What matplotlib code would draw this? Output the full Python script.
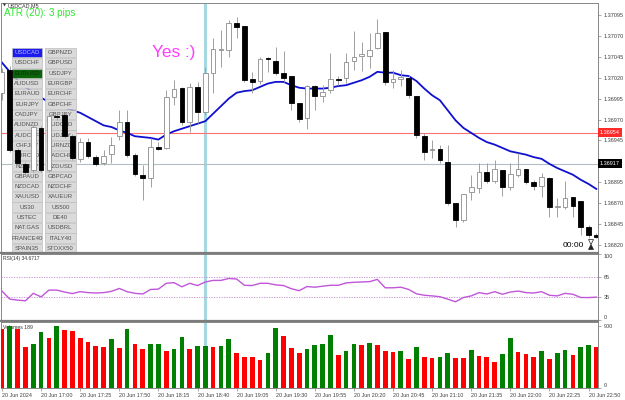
import matplotlib
matplotlib.use('Agg')
import matplotlib.pyplot as plt
from matplotlib.patches import Rectangle, Polygon
from matplotlib.lines import Line2D
from matplotlib.transforms import blended_transform_factory
import numpy as np

plt.rcParams['font.family'] = ['Liberation Sans', 'DejaVu Sans']

# ---------------- data ----------------
opens = [1.37002, 1.37029, 1.36934, 1.36917, 1.36910, 1.36960, 1.36910, 1.36974, 1.36975, 1.36950,
         1.36923, 1.36943, 1.36925, 1.36918, 1.36929, 1.36950, 1.36967, 1.36928, 1.36904, 1.36900,
         1.36937, 1.36936, 1.36997, 1.37008, 1.36967, 1.37009, 1.36979, 1.37026, 1.37053, 1.37053,
         1.37085, 1.37082, 1.37018, 1.37016, 1.37044, 1.37040, 1.37026, 1.37022, 1.36990, 1.36972,
         1.37010, 1.36998, 1.37005, 1.37018, 1.37020, 1.37040, 1.37046, 1.37046, 1.37056, 1.37075,
         1.37015, 1.37018, 1.37020, 1.36998, 1.36950, 1.36934, 1.36935, 1.36919, 1.36870, 1.36850,
         1.36883, 1.36888, 1.36907, 1.36897, 1.36910, 1.36889, 1.36904, 1.36911, 1.36895, 1.36891,
         1.36900, 1.36865, 1.36865, 1.36877, 1.36873, 1.36842, 1.36832]
highs = [1.37032, 1.37034, 1.36936, 1.36919, 1.36963, 1.36962, 1.36977, 1.36979, 1.36979, 1.36953,
         1.36948, 1.36948, 1.36928, 1.36934, 1.36949, 1.36981, 1.36981, 1.36930, 1.36916, 1.36948,
         1.36943, 1.37005, 1.37017, 1.37009, 1.37014, 1.37015, 1.37033, 1.37067, 1.37077, 1.37089,
         1.37093, 1.37082, 1.37027, 1.37045, 1.37045, 1.37057, 1.37052, 1.37022, 1.36990, 1.37011,
         1.37011, 1.37011, 1.37050, 1.37022, 1.37050, 1.37076, 1.37063, 1.37073, 1.37090, 1.37075,
         1.37029, 1.37029, 1.37023, 1.36998, 1.36954, 1.36946, 1.36940, 1.36940, 1.36870, 1.36881,
         1.36904, 1.36918, 1.36918, 1.36922, 1.36910, 1.36918, 1.36930, 1.36911, 1.36898, 1.36906,
         1.36901, 1.36876, 1.36897, 1.36877, 1.36873, 1.36844, 1.36834]
lows = [1.36993, 1.36931, 1.36916, 1.36905, 1.36907, 1.36907, 1.36907, 1.36969, 1.36948, 1.36922,
        1.36919, 1.36924, 1.36914, 1.36916, 1.36918, 1.36946, 1.36925, 1.36902, 1.36874, 1.36889,
        1.36934, 1.36935, 1.36987, 1.36963, 1.36955, 1.36966, 1.36975, 1.37002, 1.37033, 1.37045,
        1.37067, 1.37015, 1.37002, 1.37013, 1.37027, 1.37023, 1.37015, 1.36981, 1.36967, 1.36959,
        1.36981, 1.36991, 1.37002, 1.37011, 1.37014, 1.37029, 1.37028, 1.37032, 1.37054, 1.37011,
        1.37008, 1.37010, 1.36996, 1.36948, 1.36922, 1.36924, 1.36918, 1.36868, 1.36842, 1.36847,
        1.36874, 1.36882, 1.36894, 1.36894, 1.36879, 1.36886, 1.36901, 1.36893, 1.36886, 1.36877,
        1.36853, 1.36853, 1.36863, 1.36853, 1.36832, 1.36828, 1.36828]
closes = [1.37027, 1.36934, 1.36918, 1.36907, 1.36961, 1.36910, 1.36974, 1.36973, 1.36950, 1.36924,
          1.36943, 1.36926, 1.36917, 1.36926, 1.36940, 1.36967, 1.36928, 1.36905, 1.36900, 1.36937,
          1.36935, 1.36997, 1.37007, 1.36967, 1.37009, 1.36979, 1.37026, 1.37054, 1.37054, 1.37085,
          1.37081, 1.37017, 1.37015, 1.37042, 1.37042, 1.37026, 1.37020, 1.36990, 1.36971, 1.37010,
          1.36998, 1.37003, 1.37018, 1.37017, 1.37039, 1.37045, 1.37048, 1.37053, 1.37073, 1.37015,
          1.37018, 1.37021, 1.36999, 1.36952, 1.36931, 1.36935, 1.36922, 1.36870, 1.36850, 1.36881,
          1.36889, 1.36907, 1.36897, 1.36911, 1.36889, 1.36905, 1.36911, 1.36895, 1.36891, 1.36901,
          1.36865, 1.36866, 1.36876, 1.36867, 1.36842, 1.36832, 1.36830]
ema = [1.37038, 1.37027, 1.37017, 1.37009, 1.37002, 1.36996, 1.36991, 1.36987, 1.36984, 1.36981,
       1.36978, 1.36973, 1.36968, 1.36963, 1.36961, 1.36957, 1.36954, 1.36950, 1.36949, 1.36948,
       1.36946, 1.36952, 1.36956, 1.36959, 1.36962, 1.36965, 1.36968, 1.36977, 1.36986, 1.36995,
       1.37002, 1.37004, 1.37005, 1.37009, 1.37013, 1.37015, 1.37015, 1.37011, 1.37008, 1.37007,
       1.37007, 1.37007, 1.37008, 1.37010, 1.37011, 1.37014, 1.37017, 1.37021, 1.37027, 1.37026,
       1.37026, 1.37023, 1.37022, 1.37016, 1.37007, 1.36999, 1.36993, 1.36981, 1.36969, 1.36960,
       1.36954, 1.36948, 1.36943, 1.36940, 1.36936, 1.36932, 1.36930, 1.36928, 1.36925, 1.36923,
       1.36917, 1.36912, 1.36908, 1.36904, 1.36898, 1.36893, 1.36887]
rsi = [43.8, 31.6, 30.1, 29.1, 40.4, 35.0, 45.3, 45.3, 42.4, 40.0,
       42.9, 41.5, 40.9, 41.5, 43.4, 47.8, 42.9, 40.4, 39.4, 46.3,
       46.8, 55.6, 56.6, 50.3, 55.6, 52.2, 57.6, 60.0, 60.0, 62.9,
       62.1, 52.6, 52.2, 55.6, 55.6, 53.2, 52.2, 47.4, 44.4, 50.7,
       49.7, 51.2, 52.6, 52.6, 56.2, 57.1, 57.6, 58.1, 61.5, 48.8,
       48.8, 49.7, 46.3, 39.7, 37.5, 36.5, 35.3, 31.6, 27.6, 34.1,
       36.5, 41.5, 39.4, 42.9, 39.0, 42.4, 43.8, 41.5, 40.9, 42.9,
       37.5, 36.5, 40.4, 39.0, 34.1, 34.0, 34.67]
volumes = [846, 895, 851, 595, 629, 812, 716, 899, 837, 822,
           725, 667, 600, 586, 702, 576, 851, 629, 557, 629,
           638, 528, 561, 740, 561, 600, 609, 590, 609, 702,
           503, 441, 441, 402, 503, 866, 750, 576, 503, 561,
           619, 634, 769, 470, 537, 629, 615, 648, 615, 528,
           518, 528, 421, 590, 441, 440, 450, 499, 435, 433,
           547, 460, 441, 377, 489, 721, 518, 489, 441, 528,
           416, 503, 547, 470, 595, 619, 590]
time_labels = ["20 Jun 2024", "20 Jun 17:00", "20 Jun 17:25", "20 Jun 17:50", "20 Jun 18:15",
               "20 Jun 18:40", "20 Jun 19:05", "20 Jun 19:30", "20 Jun 19:55", "20 Jun 20:20",
               "20 Jun 20:45", "20 Jun 21:10", "20 Jun 21:35", "20 Jun 22:00", "20 Jun 22:25",
               "20 Jun 22:50"]
time_label_bars = [0, 5, 10, 15, 20, 25, 30, 35, 40, 45, 50, 55, 60, 65, 70, 75]
price_ticks = [1.37095, 1.37070, 1.37045, 1.37020, 1.36995, 1.36970, 1.36945,
               1.36895, 1.36870, 1.36845, 1.36820]
red_level = 1.36954
gray_level = 1.36917
rsi_levels = [35, 65]
rsi_ticks = [0, 35, 65, 100]
vol_ticks = [0, 900]
vline_bar = 26
buttons_left = ["USDCAD", "USDCHF", "EURUSD", "AUDUSD", "EURAUD", "EURJPY", "CADJPY",
                "AUDNZD", "AUDCHF", "CHFJPY", "EURCAD", "NZDJPY", "GBPAUD", "NZDCAD",
                "XAUUSD", "US30", "USTEC", "NAT.GAS", "FRANCE40", "SPAIN35"]
buttons_right = ["GBPNZD", "GBPUSD", "USDJPY", "EURGBP", "EURCHF", "GBPCHF", "GBPJPY",
                 "AUDCAD", "AUDJPY", "EURNZD", "CADCHF", "NZDUSD", "GBPCAD", "NZDCHF",
                 "XAUEUR", "US500", "DE40", "USDBRL", "ITALY40", "STOXX50"]
symbol_title = "USDCAD,M5"
atr_text = "ATR (20): 3 pips"
yes_text = "Yes :)"
rsi_title = "RSI(14) 34.6717"
vol_title = "Volumes 189"
timer_text = "00:00"

# ---------------- layout ----------------
W, H = 625, 400
fig = plt.figure(figsize=(W / 100, H / 100), dpi=100)
fig.patch.set_facecolor('white')


def box(x0, y0, x1, y1):
    return [x0 / W, 1 - y1 / H, (x1 - x0) / W, (y1 - y0) / H]


def fx(x):
    return x / W


def fy(y):
    return 1 - y / H


XL, XR = (1 - 2) / 7.82, (598 - 2) / 7.82
ax = fig.add_axes(box(1, 3, 598, 252))
ax_r = fig.add_axes(box(1, 254, 598, 320))
ax_v = fig.add_axes(box(1, 322, 598, 388))

x = np.arange(len(opens))
o = np.array(opens); c = np.array(closes); h = np.array(highs); l = np.array(lows)
bull = c >= o

# horizontal / vertical lines (under buttons)
ax.axhline(red_level, color='#ff7070', lw=0.8, zorder=0.6)
ax.axhline(gray_level, color='#b4bcc4', lw=0.8, zorder=0.6)
for a in (ax, ax_r, ax_v):
    a.axvline(vline_bar, color='#a6d8e2', lw=2.2, zorder=0.4)

# EMA (under buttons)
ax.plot(x, ema, color='#1010d0', lw=1.3, zorder=0.8)

# buttons
row_y0, pitch, bh = 52.7, 10.3, 9.4
cols = [(12, 42), (44.5, 76)]
for r, (lt, rt) in enumerate(zip(buttons_left, buttons_right)):
    yc = row_y0 + r * pitch
    for (cx0, cx1), name in zip(cols, (lt, rt)):
        fc, tc = '#dadada', '#505050'
        if name == "USDCAD" and cx0 == 12:
            fc, tc = '#1c1cf0', '#b8b8ff'
        if name == "EURUSD":
            fc, tc = '#0a640a', '#0c2a0c'
        rect = Rectangle((fx(cx0), fy(yc + bh / 2)), (cx1 - cx0) / W, bh / H,
                         transform=fig.transFigure, facecolor=fc, edgecolor='#bdbdbd',
                         lw=0.5, zorder=1.0)
        ax.add_patch(rect)
        ax.text(fx((cx0 + cx1) / 2), fy(yc), name, transform=fig.transFigure,
                ha='center', va='center', fontsize=4.3, color=tc, zorder=1.1)

# candles
ax.vlines(x, l, h, color='#a0a0a0', lw=0.7, zorder=2)
bottoms = np.minimum(o, c)
heights = np.maximum(np.abs(c - o), 0.000004)
ax.bar(x[bull], heights[bull], bottom=bottoms[bull], width=0.6,
       facecolor='white', edgecolor='#8c8c8c', lw=0.6, zorder=3)
ax.bar(x[~bull], heights[~bull], bottom=bottoms[~bull], width=0.6,
       facecolor='black', edgecolor='black', lw=0.6, zorder=3)

ax.set_xlim(XL, XR)
ax.set_ylim(1.368116, 1.371093)

# RSI
ax_r.plot(x, rsi, color='#c056d8', lw=1.0, zorder=3)
for lv in rsi_levels:
    ax_r.axhline(lv, color='#c58bd8', lw=0.6, ls=(0, (1.5, 1.5)), zorder=1)
ax_r.set_xlim(XL, XR)
ax_r.set_ylim(0, 100)

# Volumes
vcol = ['#ff0000']
for i in range(1, len(volumes)):
    vcol.append('#008000' if volumes[i] > volumes[i - 1] else '#ff0000')
ax_v.bar(x, volumes, width=0.6, color=vcol, zorder=3)
ax_v.set_xlim(XL, XR)
ax_v.set_ylim(0, 953)

# axes styling
for a in (ax, ax_r, ax_v):
    for s in a.spines.values():
        s.set_color('#888888')
        s.set_linewidth(0.7)
    a.yaxis.tick_right()
    a.tick_params(axis='y', direction='out', length=2.5, width=0.5, colors='#888888',
                  labelsize=4, labelcolor='#404040', pad=1.5)
    a.set_facecolor('white')

ax.set_yticks(price_ticks)
ax.set_yticklabels([f"{p:.5f}" for p in price_ticks])
ax.set_xticks([])
ax_r.set_xticks([])

ax_r.set_yticks(rsi_ticks)
ax_r.set_yticklabels([str(t) for t in rsi_ticks])
for t, lab in zip(rsi_ticks, ax_r.get_yticklabels()):
    if t == 100:
        lab.set_va('top')
    elif t == 0:
        lab.set_va('bottom')

ax_v.set_yticks(vol_ticks)
ax_v.set_yticklabels([str(t) for t in vol_ticks])
for t, lab in zip(vol_ticks, ax_v.get_yticklabels()):
    if t == 0:
        lab.set_va('bottom')

ax_v.set_xticks(time_label_bars)
ax_v.set_xticklabels(time_labels)
ax_v.tick_params(axis='x', direction='out', length=2.5, width=0.5, colors='#888888',
                 labelsize=3.9, labelcolor='#404040', pad=1.0)
for lab in ax_v.get_xticklabels():
    lab.set_ha('left')

# separators between panels
for yy in (253, 321):
    fig.add_artist(Line2D([fx(1), fx(598)], [fy(yy), fy(yy)], transform=fig.transFigure,
                          color='#7c7c7c', lw=1.6))

# right-hand price boxes
btr = blended_transform_factory(ax.transAxes, ax.transData)
ax.text(1.003, red_level, "1.36954", transform=btr, ha='left', va='center', fontsize=4,
        color='white', clip_on=False, zorder=6,
        bbox=dict(boxstyle='square,pad=0.35', facecolor='#ff2a2a', edgecolor='none'))
ax.text(1.003, gray_level, "1.36917", transform=btr, ha='left', va='center', fontsize=4,
        color='white', clip_on=False, zorder=6,
        bbox=dict(boxstyle='square,pad=0.35', facecolor='black', edgecolor='none'))

# texts on the chart
fig.text(fx(3), fy(5.5), "\u25bc", fontsize=2.8, color='#333333', ha='left', va='center',
         family=['DejaVu Sans'])
fig.text(fx(8), fy(5.5), symbol_title, fontsize=3.9, color='#333333', ha='left', va='center')
ax.text(fx(4), fy(13), atr_text, transform=fig.transFigure, fontsize=7.1, color='#2ee62e',
        ha='left', va='center', zorder=6)
ax.text(fx(151.5), fy(57.5), yes_text, transform=fig.transFigure, fontsize=12.4,
        color='#ff3cff', ha='left', va='baseline', zorder=6)
ax.text(fx(563), fy(245), timer_text, transform=fig.transFigure, fontsize=6,
        color='black', ha='left', va='center', zorder=6)
ax.add_patch(Polygon([(fx(588.5), fy(239.5)), (fx(593.5), fy(239.5)), (fx(591), fy(244.5))],
                     closed=True, transform=fig.transFigure, facecolor='white',
                     edgecolor='#222222', lw=0.5, zorder=6))
ax.add_patch(Polygon([(fx(588.5), fy(249.5)), (fx(593.5), fy(249.5)), (fx(591), fy(244.5))],
                     closed=True, transform=fig.transFigure, facecolor='#222222',
                     edgecolor='#222222', lw=0.5, zorder=6))
ax_r.text(fx(3), fy(258.5), rsi_title, transform=fig.transFigure, fontsize=3.6,
          color='#333333', ha='left', va='center', zorder=2)
ax_v.text(fx(3), fy(327.5), vol_title, transform=fig.transFigure, fontsize=3.7,
          color='#333333', ha='left', va='center', zorder=2)

ax.set_xlim(XL, XR)
ax.set_ylim(1.368116, 1.371093)

fig.savefig('out.png', dpi=100, facecolor='white')
